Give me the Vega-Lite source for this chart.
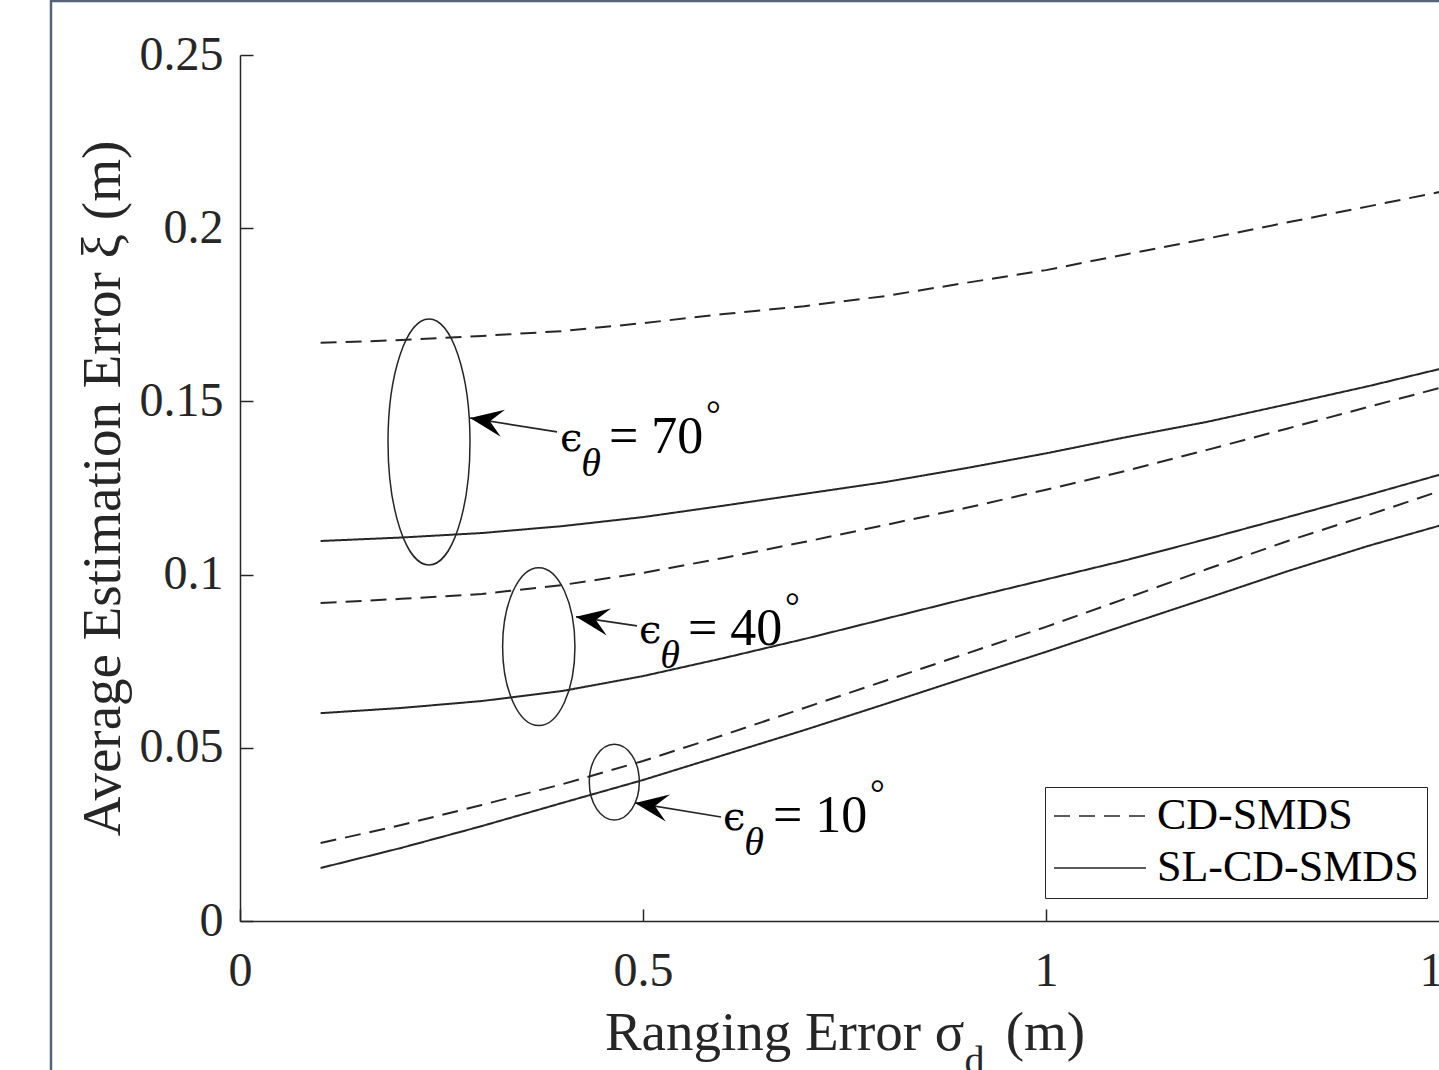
{
  "$schema": "https://vega.github.io/schema/vega-lite/v6.json",
  "width": 1209,
  "height": 866,
  "autosize": {"type": "none"},
  "padding": {"left": 240, "top": 55, "right": -10, "bottom": 149},
  "background": "white",
  "datasets": {
    "curves": [
      {"x":0.1,"err":0.1669,"method":"CD-SMDS","angle":"70"},{"x":0.2,"err":0.1677,"method":"CD-SMDS","angle":"70"},{"x":0.3,"err":0.1689,"method":"CD-SMDS","angle":"70"},{"x":0.4,"err":0.1703,"method":"CD-SMDS","angle":"70"},{"x":0.5,"err":0.1726,"method":"CD-SMDS","angle":"70"},{"x":0.6,"err":0.1752,"method":"CD-SMDS","angle":"70"},{"x":0.7,"err":0.1775,"method":"CD-SMDS","angle":"70"},{"x":0.8,"err":0.1804,"method":"CD-SMDS","angle":"70"},{"x":0.9,"err":0.1842,"method":"CD-SMDS","angle":"70"},{"x":1.0,"err":0.1879,"method":"CD-SMDS","angle":"70"},{"x":1.1,"err":0.1925,"method":"CD-SMDS","angle":"70"},{"x":1.2,"err":0.1970,"method":"CD-SMDS","angle":"70"},{"x":1.3,"err":0.2017,"method":"CD-SMDS","angle":"70"},{"x":1.4,"err":0.2063,"method":"CD-SMDS","angle":"70"},{"x":1.5,"err":0.2110,"method":"CD-SMDS","angle":"70"},
      {"x":0.1,"err":0.1097,"method":"SL-CD-SMDS","angle":"70"},{"x":0.2,"err":0.1107,"method":"SL-CD-SMDS","angle":"70"},{"x":0.3,"err":0.1120,"method":"SL-CD-SMDS","angle":"70"},{"x":0.4,"err":0.1140,"method":"SL-CD-SMDS","angle":"70"},{"x":0.5,"err":0.1166,"method":"SL-CD-SMDS","angle":"70"},{"x":0.6,"err":0.1199,"method":"SL-CD-SMDS","angle":"70"},{"x":0.7,"err":0.1233,"method":"SL-CD-SMDS","angle":"70"},{"x":0.8,"err":0.1267,"method":"SL-CD-SMDS","angle":"70"},{"x":0.9,"err":0.1307,"method":"SL-CD-SMDS","angle":"70"},{"x":1.0,"err":0.1350,"method":"SL-CD-SMDS","angle":"70"},{"x":1.1,"err":0.1397,"method":"SL-CD-SMDS","angle":"70"},{"x":1.2,"err":0.1441,"method":"SL-CD-SMDS","angle":"70"},{"x":1.3,"err":0.1492,"method":"SL-CD-SMDS","angle":"70"},{"x":1.4,"err":0.1544,"method":"SL-CD-SMDS","angle":"70"},{"x":1.5,"err":0.1600,"method":"SL-CD-SMDS","angle":"70"},
      {"x":0.1,"err":0.0918,"method":"CD-SMDS","angle":"40"},{"x":0.2,"err":0.0930,"method":"CD-SMDS","angle":"40"},{"x":0.3,"err":0.0944,"method":"CD-SMDS","angle":"40"},{"x":0.4,"err":0.0970,"method":"CD-SMDS","angle":"40"},{"x":0.5,"err":0.1005,"method":"CD-SMDS","angle":"40"},{"x":0.6,"err":0.1048,"method":"CD-SMDS","angle":"40"},{"x":0.7,"err":0.1094,"method":"CD-SMDS","angle":"40"},{"x":0.8,"err":0.1143,"method":"CD-SMDS","angle":"40"},{"x":0.9,"err":0.1192,"method":"CD-SMDS","angle":"40"},{"x":1.0,"err":0.1245,"method":"CD-SMDS","angle":"40"},{"x":1.1,"err":0.1300,"method":"CD-SMDS","angle":"40"},{"x":1.2,"err":0.1360,"method":"CD-SMDS","angle":"40"},{"x":1.3,"err":0.1422,"method":"CD-SMDS","angle":"40"},{"x":1.4,"err":0.1484,"method":"CD-SMDS","angle":"40"},{"x":1.5,"err":0.1546,"method":"CD-SMDS","angle":"40"},
      {"x":0.1,"err":0.0600,"method":"SL-CD-SMDS","angle":"40"},{"x":0.2,"err":0.0615,"method":"SL-CD-SMDS","angle":"40"},{"x":0.3,"err":0.0635,"method":"SL-CD-SMDS","angle":"40"},{"x":0.4,"err":0.0664,"method":"SL-CD-SMDS","angle":"40"},{"x":0.5,"err":0.0707,"method":"SL-CD-SMDS","angle":"40"},{"x":0.6,"err":0.0759,"method":"SL-CD-SMDS","angle":"40"},{"x":0.7,"err":0.0814,"method":"SL-CD-SMDS","angle":"40"},{"x":0.8,"err":0.0872,"method":"SL-CD-SMDS","angle":"40"},{"x":0.9,"err":0.0930,"method":"SL-CD-SMDS","angle":"40"},{"x":1.0,"err":0.0986,"method":"SL-CD-SMDS","angle":"40"},{"x":1.1,"err":0.1042,"method":"SL-CD-SMDS","angle":"40"},{"x":1.2,"err":0.1103,"method":"SL-CD-SMDS","angle":"40"},{"x":1.3,"err":0.1166,"method":"SL-CD-SMDS","angle":"40"},{"x":1.4,"err":0.1230,"method":"SL-CD-SMDS","angle":"40"},{"x":1.5,"err":0.1296,"method":"SL-CD-SMDS","angle":"40"},
      {"x":0.1,"err":0.0225,"method":"CD-SMDS","angle":"10"},{"x":0.2,"err":0.0277,"method":"CD-SMDS","angle":"10"},{"x":0.3,"err":0.0335,"method":"CD-SMDS","angle":"10"},{"x":0.4,"err":0.0395,"method":"CD-SMDS","angle":"10"},{"x":0.5,"err":0.0462,"method":"CD-SMDS","angle":"10"},{"x":0.6,"err":0.0537,"method":"CD-SMDS","angle":"10"},{"x":0.7,"err":0.0615,"method":"CD-SMDS","angle":"10"},{"x":0.8,"err":0.0693,"method":"CD-SMDS","angle":"10"},{"x":0.9,"err":0.0771,"method":"CD-SMDS","angle":"10"},{"x":1.0,"err":0.0849,"method":"CD-SMDS","angle":"10"},{"x":1.1,"err":0.0932,"method":"CD-SMDS","angle":"10"},{"x":1.2,"err":0.1016,"method":"CD-SMDS","angle":"10"},{"x":1.3,"err":0.1097,"method":"CD-SMDS","angle":"10"},{"x":1.4,"err":0.1172,"method":"CD-SMDS","angle":"10"},{"x":1.5,"err":0.1250,"method":"CD-SMDS","angle":"10"},
      {"x":0.1,"err":0.0153,"method":"SL-CD-SMDS","angle":"10"},{"x":0.2,"err":0.0211,"method":"SL-CD-SMDS","angle":"10"},{"x":0.3,"err":0.0274,"method":"SL-CD-SMDS","angle":"10"},{"x":0.4,"err":0.0341,"method":"SL-CD-SMDS","angle":"10"},{"x":0.5,"err":0.0407,"method":"SL-CD-SMDS","angle":"10"},{"x":0.6,"err":0.0479,"method":"SL-CD-SMDS","angle":"10"},{"x":0.7,"err":0.0551,"method":"SL-CD-SMDS","angle":"10"},{"x":0.8,"err":0.0626,"method":"SL-CD-SMDS","angle":"10"},{"x":0.9,"err":0.0702,"method":"SL-CD-SMDS","angle":"10"},{"x":1.0,"err":0.0777,"method":"SL-CD-SMDS","angle":"10"},{"x":1.1,"err":0.0855,"method":"SL-CD-SMDS","angle":"10"},{"x":1.2,"err":0.0932,"method":"SL-CD-SMDS","angle":"10"},{"x":1.3,"err":0.1010,"method":"SL-CD-SMDS","angle":"10"},{"x":1.4,"err":0.1083,"method":"SL-CD-SMDS","angle":"10"},{"x":1.5,"err":0.1149,"method":"SL-CD-SMDS","angle":"10"}
    ],
    "ellipses": [
      {"x":0.2345,"y":0.1383,"group":"70"},
      {"x":0.3707,"y":0.0792,"group":"40"},
      {"x":0.4644,"y":0.0401,"group":"10"}
    ],
    "arrows": [
      {"x":0.3933,"y":0.1412,"tipx":0.2854,"tipy":0.1452,"group":"70"},
      {"x":0.4926,"y":0.0852,"tipx":0.4169,"tipy":0.0878,"group":"40"},
      {"x":0.5968,"y":0.0300,"tipx":0.4901,"tipy":0.0341,"group":"10"}
    ],
    "notes": [
      {"x":0.3970,"y":0.1357,"t":"ϵ","part":"eps"},
      {"x":0.4578,"y":0.1351,"t":"= 70","part":"eq"},
      {"x":0.4234,"y":0.1285,"t":"θ","part":"sub"},
      {"x":0.5782,"y":0.1426,"t":"°","part":"sup"},
      {"x":0.4950,"y":0.0803,"t":"ϵ","part":"eps"},
      {"x":0.5558,"y":0.0797,"t":"= 40","part":"eq"},
      {"x":0.5214,"y":0.0730,"t":"θ","part":"sub"},
      {"x":0.6762,"y":0.0872,"t":"°","part":"sup"},
      {"x":0.5993,"y":0.0263,"t":"ϵ","part":"eps"},
      {"x":0.6613,"y":0.0257,"t":"= 10","part":"eq"},
      {"x":0.6256,"y":0.0191,"t":"θ","part":"sub"},
      {"x":0.7816,"y":0.0332,"t":"°","part":"sup"}
    ]
  },
  "layer": [
    {
      "data": {"name": "curves"},
      "mark": {"type": "line", "color": "#262626", "strokeWidth": 2},
      "encoding": {
        "x": {
          "field": "x", "type": "quantitative",
          "scale": {"domain": [0, 1.5], "nice": false, "zero": false},
          "axis": {
            "title": "Ranging Error σ\u2002 (m)",
            "values": [0, 0.5, 1, 1.5], "format": ".1~f",
            "tickSize": -12, "labelPadding": 38, "titlePadding": 11, "titleFontSize": 55
          }
        },
        "y": {
          "field": "err", "type": "quantitative",
          "scale": {"domain": [0, 0.25], "nice": false, "zero": false},
          "axis": {
            "title": "Average Estimation Error ξ (m)",
            "values": [0, 0.05, 0.1, 0.15, 0.2, 0.25], "format": ".2~f",
            "tickSize": -13, "labelPadding": 30, "titlePadding": 8
          }
        },
        "strokeDash": {
          "field": "method", "type": "nominal",
          "scale": {"domain": ["CD-SMDS", "SL-CD-SMDS"], "range": [[16, 9], [1, 0]]},
          "legend": {"title": null}
        },
        "detail": {"field": "angle", "type": "nominal"}
      }
    },
    {
      "data": {"values": [{}]},
      "mark": {"type": "rect", "filled": false, "stroke": "#56637a", "strokeWidth": 2.5, "clip": false},
      "encoding": {
        "x": {"datum": -0.2345, "type": "quantitative"},
        "x2": {"datum": 1.7},
        "y": {"datum": 0.2656, "type": "quantitative"},
        "y2": {"datum": -0.1}
      }
    },
    {
      "data": {"values": [{"sub": "d"}]},
      "mark": {"type": "text", "font": "Liberation Serif", "fontSize": 40, "align": "left", "baseline": "alphabetic", "color": "#262626", "clip": false},
      "encoding": {
        "x": {"datum": 0.899, "type": "quantitative"},
        "y": {"datum": -0.0443, "type": "quantitative"},
        "text": {"field": "sub"}
      }
    },
    {
      "data": {"name": "ellipses"},
      "mark": {"type": "point", "filled": false, "stroke": "#262626", "strokeWidth": 1.5, "size": 60516, "opacity": 1},
      "encoding": {
        "x": {"field": "x", "type": "quantitative"},
        "y": {"field": "y", "type": "quantitative"},
        "shape": {
          "field": "group", "type": "nominal", "legend": null,
          "scale": {
            "domain": ["70", "40", "10"],
            "range": [
              "M0,-1C0.1841,-1 0.3333,-0.5523 0.3333,0C0.3333,0.5523 0.1841,1 0,1C-0.1841,1 -0.3333,0.5523 -0.3333,0C-0.3333,-0.5523 -0.1841,-1 0,-1Z",
              "M0,-0.642C0.1624,-0.642 0.294,-0.3546 0.294,0C0.294,0.3546 0.1624,0.642 0,0.642C-0.1624,0.642 -0.294,0.3546 -0.294,0C-0.294,-0.3546 -0.1624,-0.642 0,-0.642Z",
              "M0,-0.3077C0.1123,-0.3077 0.2033,-0.1699 0.2033,0C0.2033,0.1699 0.1123,0.3077 0,0.3077C-0.1123,0.3077 -0.2033,0.1699 -0.2033,0C-0.2033,-0.1699 -0.1123,-0.3077 0,-0.3077Z"
            ]
          }
        }
      }
    },
    {
      "data": {"name": "arrows"},
      "mark": {"type": "rule", "color": "#262626", "strokeWidth": 1.6},
      "encoding": {
        "x": {"field": "x", "type": "quantitative"},
        "y": {"field": "y", "type": "quantitative"},
        "x2": {"field": "tipx"},
        "y2": {"field": "tipy"}
      }
    },
    {
      "data": {"name": "arrows"},
      "mark": {"type": "point", "filled": true, "color": "#000000", "opacity": 1, "size": 1225, "angle": 9, "shape": "M0,0L1.9,-0.78L1.15,0L1.9,0.78Z"},
      "encoding": {
        "x": {"field": "tipx", "type": "quantitative"},
        "y": {"field": "tipy", "type": "quantitative"}
      }
    },
    {
      "data": {"name": "notes"},
      "transform": [{"filter": "datum.part === 'eps'"}],
      "mark": {"type": "text", "font": "DejaVu Serif", "fontSize": 40, "align": "left", "baseline": "alphabetic", "color": "#000000"},
      "encoding": {
        "x": {"field": "x", "type": "quantitative"},
        "y": {"field": "y", "type": "quantitative"},
        "text": {"field": "t"}
      }
    },
    {
      "data": {"name": "notes"},
      "transform": [{"filter": "datum.part === 'eq'"}],
      "mark": {"type": "text", "font": "Liberation Serif", "fontSize": 52, "align": "left", "baseline": "alphabetic", "color": "#000000"},
      "encoding": {
        "x": {"field": "x", "type": "quantitative"},
        "y": {"field": "y", "type": "quantitative"},
        "text": {"field": "t"}
      }
    },
    {
      "data": {"name": "notes"},
      "transform": [{"filter": "datum.part === 'sub'"}],
      "mark": {"type": "text", "font": "Liberation Serif", "fontStyle": "italic", "fontSize": 40, "align": "left", "baseline": "alphabetic", "color": "#000000"},
      "encoding": {
        "x": {"field": "x", "type": "quantitative"},
        "y": {"field": "y", "type": "quantitative"},
        "text": {"field": "t"}
      }
    },
    {
      "data": {"name": "notes"},
      "transform": [{"filter": "datum.part === 'sup'"}],
      "mark": {"type": "text", "font": "Liberation Serif", "fontSize": 37, "align": "left", "baseline": "alphabetic", "color": "#000000"},
      "encoding": {
        "x": {"field": "x", "type": "quantitative"},
        "y": {"field": "y", "type": "quantitative"},
        "text": {"field": "t"}
      }
    }
  ],
  "config": {
    "view": {"stroke": null},
    "font": "Liberation Serif",
    "axis": {
      "domainColor": "#262626", "domainWidth": 1.5,
      "tickColor": "#262626", "tickWidth": 1.5,
      "grid": false,
      "labelFont": "Liberation Serif", "labelFontSize": 48, "labelColor": "#262626",
      "labelFlush": false, "labelOverlap": false,
      "titleFont": "Liberation Serif", "titleFontWeight": "normal", "titleFontSize": 55, "titleColor": "#262626"
    },
    "legend": {
      "orient": "none", "legendX": 805, "legendY": 732,
      "symbolType": "stroke", "symbolSize": 8464, "symbolStrokeWidth": 1.5, "symbolStrokeColor": "#262626",
      "labelFont": "Liberation Serif", "labelFontSize": 44, "labelColor": "#000000", "labelOffset": 10, "labelLimit": 500,
      "strokeColor": "#262626", "fillColor": "white", "padding": 8, "rowPadding": 8, "clipHeight": 42
    }
  }
}
